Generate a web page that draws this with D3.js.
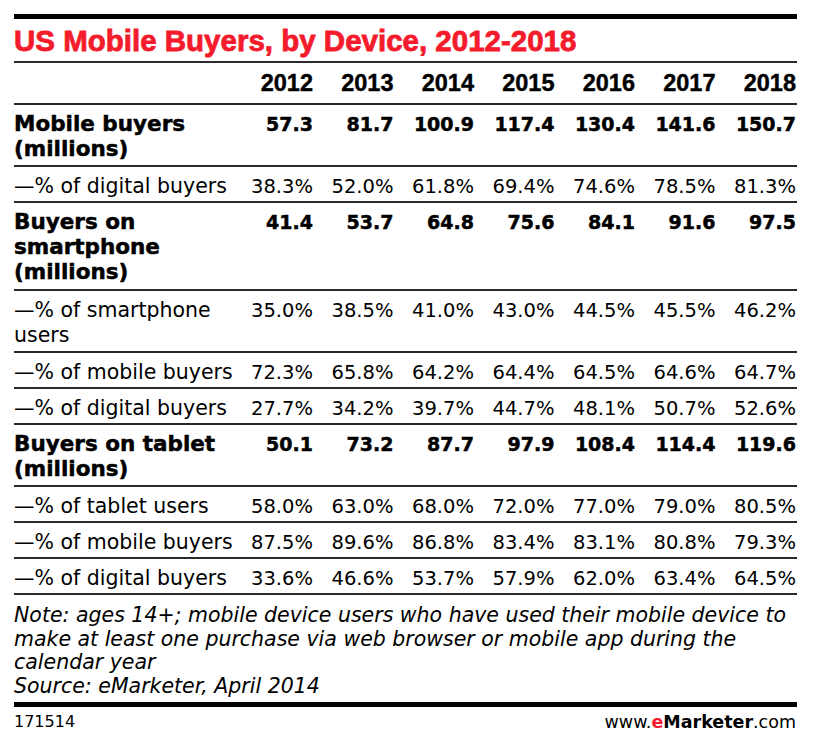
<!DOCTYPE html>
<html>
<head>
<meta charset="utf-8">
<script src="https://cdn.jsdelivr.net/npm/d3@7"></script>
<style>
  html, body { margin: 0; padding: 0; background: #fff; }
  svg { display: block; }
</style>
</head>
<body>
<script>
// ---- DATA ----
const title = "US Mobile Buyers, by Device, 2012-2018";
const years = ["2012", "2013", "2014", "2015", "2016", "2017", "2018"];

const rowLabels = [
  ["Mobile buyers", "(millions)"],
  ["—% of digital buyers"],
  ["Buyers on", "smartphone", "(millions)"],
  ["—% of smartphone", "users"],
  ["—% of mobile buyers"],
  ["—% of digital buyers"],
  ["Buyers on tablet", "(millions)"],
  ["—% of tablet users"],
  ["—% of mobile buyers"],
  ["—% of digital buyers"]
];
const rowIsBold = [true, false, true, false, false, false, true, false, false, false];

const mobileBuyers         = [57.3, 81.7, 100.9, 117.4, 130.4, 141.6, 150.7];
const mobilePctDigital     = [38.3, 52.0, 61.8, 69.4, 74.6, 78.5, 81.3];
const smartphoneBuyers     = [41.4, 53.7, 64.8, 75.6, 84.1, 91.6, 97.5];
const smartphonePctUsers   = [35.0, 38.5, 41.0, 43.0, 44.5, 45.5, 46.2];
const smartphonePctMobile  = [72.3, 65.8, 64.2, 64.4, 64.5, 64.6, 64.7];
const smartphonePctDigital = [27.7, 34.2, 39.7, 44.7, 48.1, 50.7, 52.6];
const tabletBuyers         = [50.1, 73.2, 87.7, 97.9, 108.4, 114.4, 119.6];
const tabletPctUsers       = [58.0, 63.0, 68.0, 72.0, 77.0, 79.0, 80.5];
const tabletPctMobile      = [87.5, 89.6, 86.8, 83.4, 83.1, 80.8, 79.3];
const tabletPctDigital     = [33.6, 46.6, 53.7, 57.9, 62.0, 63.4, 64.5];

const noteLines = [
  "Note: ages 14+; mobile device users who have used their mobile device to",
  "make at least one purchase via web browser or mobile app during the",
  "calendar year",
  "Source: eMarketer, April 2014"
];
const chartId = "171514";

// ---- BUILD ----
const rowValues = [mobileBuyers, mobilePctDigital, smartphoneBuyers, smartphonePctUsers,
  smartphonePctMobile, smartphonePctDigital, tabletBuyers, tabletPctUsers, tabletPctMobile, tabletPctDigital];

const W = 816, H = 746;
const leftX = 14, rightX = 797;
const svg = d3.select("body").append("svg").attr("width", W).attr("height", H);

const x = d3.scalePoint().domain(years).range([313, 796]);
const fmtNum = d3.format(".1f");
const fmtPct = v => d3.format(".1f")(v) + "%";

const ruleColor = "#2a2a2a";
// top thick rule
svg.append("line").attr("x1", leftX).attr("x2", rightX).attr("y1", 16.5).attr("y2", 16.5)
  .attr("stroke", "#000").attr("stroke-width", 5);

// title
svg.append("text").attr("x", leftX).attr("y", 51)
  .attr("font-family", "'Liberation Sans', Arial, sans-serif").attr("font-weight", "bold")
  .attr("font-size", 29.5).attr("fill", "#f41c2c")
  .attr("stroke", "#f41c2c").attr("stroke-width", 0.8)
  .text(title);

svg.append("line").attr("x1", leftX).attr("x2", rightX).attr("y1", 62).attr("y2", 62)
  .attr("stroke", ruleColor).attr("stroke-width", 2);

// header years
svg.append("g").selectAll("text").data(years).join("text")
  .attr("x", d => x(d)).attr("y", 91).attr("text-anchor", "end")
  .attr("font-family", "'Liberation Sans', Arial, sans-serif").attr("font-weight", "bold")
  .attr("font-size", 23.5).attr("fill", "#000")
  .attr("stroke", "#000").attr("stroke-width", 0.4)
  .text(d => d);

svg.append("line").attr("x1", leftX).attr("x2", rightX).attr("y1", 104).attr("y2", 104)
  .attr("stroke", ruleColor).attr("stroke-width", 2);

// rows
let rowTop = 104;
const lineStep = 25;
rowLabels.forEach((lines, i) => {
  const h = 36 + (lines.length - 1) * 26;
  const base = rowTop + 27;
  const bold = rowIsBold[i];
  const g = svg.append("g");
  g.selectAll("text.lbl").data(lines).join("text").attr("class", "lbl")
    .attr("x", leftX).attr("y", (d, j) => base + j * lineStep)
    .attr("font-family", "'DejaVu Sans', sans-serif")
    .attr("font-weight", bold ? "bold" : "normal")
    .attr("font-size", bold ? 21.5 : 20.5).attr("fill", "#000")
    .attr("stroke", bold ? "#000" : "none").attr("stroke-width", bold ? 0.5 : 0)
    .text(d => d);
  g.selectAll("text.val").data(rowValues[i]).join("text").attr("class", "val")
    .attr("x", (d, j) => x(years[j])).attr("y", base).attr("text-anchor", "end")
    .attr("font-family", "'DejaVu Sans', sans-serif")
    .attr("font-weight", bold ? "bold" : "normal")
    .attr("font-size", bold ? 19 : 19.5).attr("fill", "#000")
    .attr("stroke", bold ? "#000" : "none").attr("stroke-width", bold ? 0.5 : 0)
    .text(d => bold ? fmtNum(d) : fmtPct(d));
  rowTop += h;
  svg.append("line").attr("x1", leftX).attr("x2", rightX).attr("y1", rowTop).attr("y2", rowTop)
    .attr("stroke", ruleColor).attr("stroke-width", 2);
});

// notes
svg.append("g").selectAll("text").data(noteLines).join("text")
  .attr("x", leftX).attr("y", (d, i) => 622 + i * 23.6)
  .attr("font-family", "'DejaVu Sans', sans-serif").attr("font-style", "italic")
  .attr("font-size", 20.5).attr("fill", "#000")
  .text(d => d);

// bottom thick rule
svg.append("line").attr("x1", leftX).attr("x2", rightX).attr("y1", 704.5).attr("y2", 704.5)
  .attr("stroke", "#000").attr("stroke-width", 5);

svg.append("text").attr("x", leftX).attr("y", 727)
  .attr("font-family", "'DejaVu Sans', sans-serif").attr("font-size", 16).attr("fill", "#000")
  .text(chartId);

const brand = svg.append("text").attr("x", 796).attr("y", 727.5).attr("text-anchor", "end")
  .attr("font-family", "'DejaVu Sans', sans-serif").attr("font-size", 17.5).attr("fill", "#000");
brand.append("tspan").text("www.");
brand.append("tspan").attr("font-weight", "bold").attr("fill", "#f41c2c").text("e");
brand.append("tspan").attr("font-weight", "bold").text("Marketer");
brand.append("tspan").text(".com");
</script>
</body>
</html>
